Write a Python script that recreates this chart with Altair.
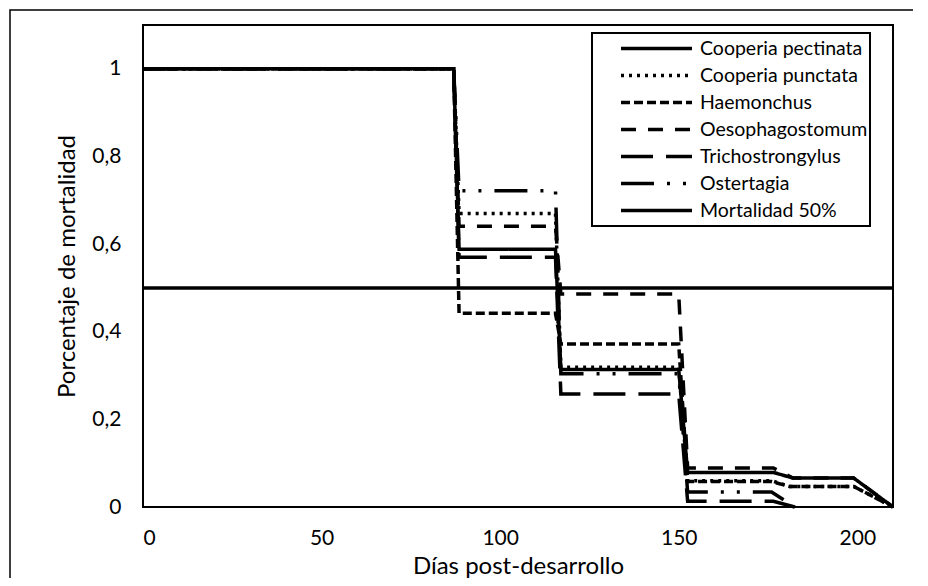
import altair as alt
import pandas as pd

series_names = ["Cooperia pectinata", "Cooperia punctata", "Haemonchus",
                "Oesophagostomum", "Trichostrongylus", "Ostertagia", "Mortalidad 50%"]

x_pectinata = [0, 87, 88.5, 115.5, 117, 150, 152.5, 176.5, 182, 199, 210]
y_pectinata = [1, 1, 0.588, 0.588, 0.314, 0.314, 0.079, 0.079, 0.066, 0.066, 0]

x_punctata = [0, 87, 88.5, 115.5, 117, 150, 152.5, 176, 181, 199, 210]
y_punctata = [1, 1, 0.670, 0.670, 0.319, 0.319, 0.060, 0.060, 0.047, 0.047, 0]

x_haemonchus = [0, 87, 88.5, 115.5, 117, 150, 152.5, 176, 181, 199, 210]
y_haemonchus = [1, 1, 0.442, 0.442, 0.372, 0.372, 0.058, 0.058, 0.047, 0.047, 0]

x_oesophago = [0, 87, 88.5, 115.5, 117, 150, 152.5, 176.5, 182, 199, 210]
y_oesophago = [1, 1, 0.641, 0.641, 0.486, 0.486, 0.089, 0.089, 0.066, 0.066, 0]

x_tricho = [0, 87, 88.5, 115.5, 117, 150, 152.5, 176.5, 182.5]
y_tricho = [1, 1, 0.570, 0.570, 0.258, 0.258, 0.013, 0.013, 0]

x_ostertagia = [0, 87, 88.5, 115.5, 117, 150, 152.5, 176, 182.5]
y_ostertagia = [1, 1, 0.722, 0.722, 0.304, 0.304, 0.034, 0.034, 0]

x_mort50 = [0, 210]
y_mort50 = [0.5, 0.5]

x_ticks = [0, 50, 100, 150, 200]
y_ticks = [0, 0.2, 0.4, 0.6, 0.8, 1.0]

dash_range = [[1, 0], [3, 5], [9, 4], [15, 12], [32, 13], [33, 13, 3, 13, 3, 13], [1, 0]]
width_range = [3.5, 3.5, 3.5, 3.5, 3.5, 3.5, 2]

xs = [x_pectinata, x_punctata, x_haemonchus, x_oesophago, x_tricho, x_ostertagia, x_mort50]
ys = [y_pectinata, y_punctata, y_haemonchus, y_oesophago, y_tricho, y_ostertagia, y_mort50]

rows = []
for name, xv, yv in zip(series_names, xs, ys):
    for i, (a, b) in enumerate(zip(xv, yv)):
        rows.append({"serie": name, "dias": a, "mort": b, "idx": i})
df = pd.DataFrame(rows)

FONT = "Lato"

legend = alt.Legend(
    title=None, orient="none", legendX=449, legendY=8,
    symbolType="stroke", symbolSize=5041, symbolStrokeColor="black",
    symbolOffset=25, clipHeight=27, padding=2,
    labelFont=FONT, labelFontSize=19.5, labelColor="black", labelOffset=6,
    labelLimit=400,
    labelExpr="datum.label + '\u00a0\u00a0\u00a0'",
    strokeColor="black",
)

lines = alt.Chart(df).mark_line(color="black", strokeCap="butt", strokeJoin="miter").encode(
    x=alt.X("dias:Q", scale=alt.Scale(domain=[0, 210], nice=False, zero=False),
            axis=alt.Axis(values=x_ticks, title="Días post-desarrollo", ticks=False, domain=False,
                          grid=False, labelPadding=20, titlePadding=6, format="d")),
    y=alt.Y("mort:Q", scale=alt.Scale(domain=[0, 1.1], nice=False),
            axis=alt.Axis(values=y_ticks, title="Porcentaje de mortalidad", ticks=False, domain=False,
                          grid=False, labelPadding=22, titlePadding=12,
                          labelExpr="replace(format(datum.value, '~g'), '.', ',')")),
    strokeDash=alt.StrokeDash("serie:N", scale=alt.Scale(domain=series_names, range=dash_range),
                              sort=series_names, legend=legend),
    strokeWidth=alt.StrokeWidth("serie:N", scale=alt.Scale(domain=series_names, range=width_range),
                                sort=series_names, legend=legend),
    order="idx:Q",
)

border = alt.Chart(pd.DataFrame({"k": [0]})).mark_rect(
    fill=None, stroke="black", strokeWidth=1.5, clip=False
).encode(x=alt.value(-133), x2=alt.value(900), y=alt.value(-15), y2=alt.value(700))

chart = alt.layer(border, lines).properties(
    width=750, height=482,
    autosize=alt.AutoSizeParams(type="none"),
    padding={"left": 135, "top": 17, "right": 20, "bottom": 71},
).configure_view(stroke="black", strokeWidth=2).configure_axis(
    labelFont=FONT, labelFontSize=21, labelColor="black",
    titleFont=FONT, titleFontSize=24, titleColor="black", titleFontWeight="normal",
).configure_legend(rowPadding=0, strokeWidth=2)

chart.save("out.html", embed_options={"renderer": "svg", "actions": False})
